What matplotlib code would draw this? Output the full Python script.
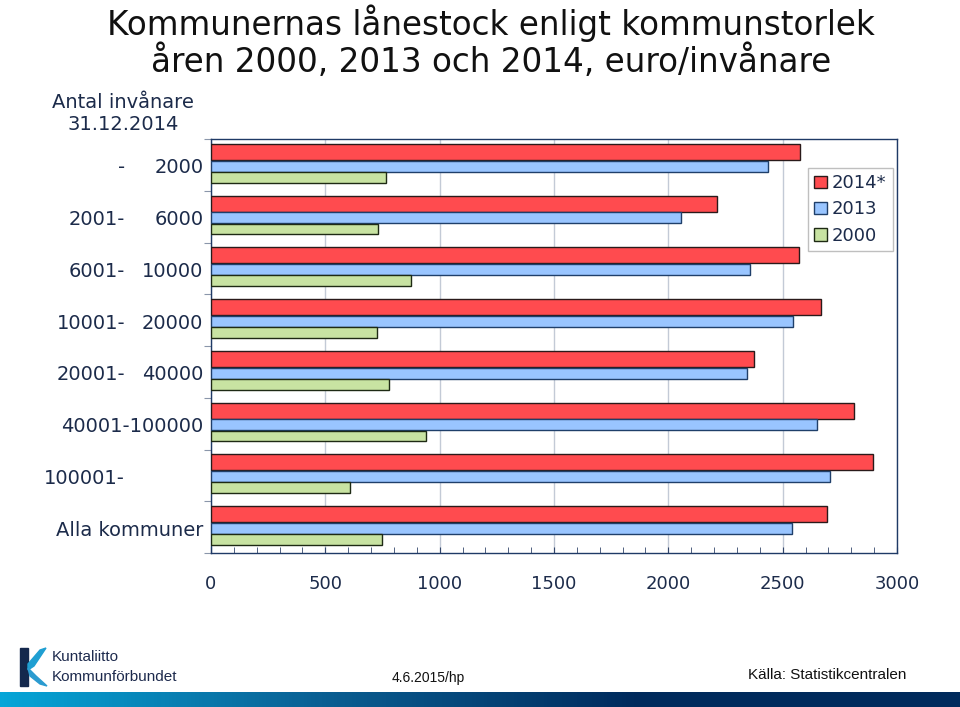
import numpy as np
import matplotlib
matplotlib.use("Agg")
import matplotlib.pyplot as plt
from matplotlib.colors import LinearSegmentedColormap
from matplotlib.patches import Rectangle, Polygon

# Data (euro per inhabitant)
left_txt = ["-", "2001-", "6001-", "10001-", "20001-", "", "100001-", ""]
right_txt = ["2000", "6000", "10000", "20000", "40000", "40001-100000", "", "Alla kommuner"]
v2014 = [2574, 2214, 2570, 2668, 2373, 2813, 2895, 2692]
v2013 = [2435, 2054, 2357, 2545, 2345, 2649, 2706, 2539]
v2000 = [766, 731, 874, 727, 778, 942, 610, 749]
xticks = [0, 500, 1000, 1500, 2000, 2500, 3000]

txt_col = "#1c2b4a"
W, H = 960, 707

fig = plt.figure(figsize=(9.6, 7.07), dpi=100)
ax = fig.add_axes([211 / W, 1 - 553 / H, 686 / W, 414 / H])

idx = np.arange(len(v2014))
ax.barh(idx + 0.25, v2014, height=0.31, color="#ff4b4f", edgecolor="#2a1a1a", linewidth=1, label="2014*", zorder=3)
ax.barh(idx + 0.525, v2013, height=0.21, color="#99c5ff", edgecolor="#1f3f6a", linewidth=1, label="2013", zorder=3)
ax.barh(idx + 0.74, v2000, height=0.21, color="#c8e3a2", edgecolor="#1e2a14", linewidth=1, label="2000", zorder=3)

ax.set_xlim(0, 3000)
ax.set_ylim(8, 0)
ax.set_xticks(xticks)
ax.set_xticklabels([str(t) for t in xticks], fontsize=13, color=txt_col)
ax.set_xticks(np.arange(0, 3001, 100), minor=True)
ax.set_yticks(np.arange(0, 9))
ax.set_yticklabels([])
ax.tick_params(axis="x", which="both", direction="in", length=4, color="#33466b", pad=16)
ax.tick_params(axis="y", direction="out", length=5, color="#8a96aa")
ax.grid(axis="x", color="#c3cad6", linewidth=1, zorder=0)
for s in ax.spines.values():
    s.set_color("#1f3a66")
    s.set_linewidth(1)

# category labels in two columns
for i in idx:
    ax.text(-0.125, i + 0.56, left_txt[i], transform=ax.get_yaxis_transform(),
            ha="right", va="center", fontsize=14, color=txt_col)
    ax.text(-0.011, i + 0.56, right_txt[i], transform=ax.get_yaxis_transform(),
            ha="right", va="center", fontsize=14, color=txt_col)

leg = ax.legend(loc="upper right", bbox_to_anchor=(0.994, 0.93), borderaxespad=0,
                fontsize=13, frameon=True, fancybox=False, handlelength=0.7,
                handleheight=0.7, handletextpad=0.3, labelspacing=0.45,
                borderpad=0.35, labelcolor=txt_col)
leg.get_frame().set_edgecolor("#b0b0b0")
leg.get_frame().set_linewidth(1)

# titles
fig.text(491 / W, 1 - 4 / H, "Kommunernas lånestock enligt kommunstorlek\nåren 2000, 2013 och 2014, euro/invånare",
         ha="center", va="top", fontsize=23.5, color="#111111", linespacing=1.12)
fig.text(123 / W, 1 - 114 / H, "Antal invånare\n31.12.2014", ha="center", va="center",
         fontsize=14, color=txt_col, linespacing=1.2)

# footer
fig.text(392 / W, 1 - 678 / H, "4.6.2015/hp", ha="left", va="center", fontsize=10,
         family="Liberation Sans", color="#111111")
fig.text(748 / W, 1 - 675 / H, "Källa: Statistikcentralen", ha="left", va="center",
         fontsize=11, family="Liberation Sans", color="#111111")
fig.text(52 / W, 1 - 657 / H, "Kuntaliitto", ha="left", va="center", fontsize=11,
         family="Liberation Sans", color="#1d2a4d")
fig.text(52 / W, 1 - 677 / H, "Kommunförbundet", ha="left", va="center", fontsize=11,
         family="Liberation Sans", color="#1d2a4d")

def px(pts):
    return [(x / W, 1 - y / H) for x, y in pts]

fig.add_artist(Rectangle((20 / W, 1 - 686 / H), 8 / W, 38 / H, transform=fig.transFigure,
                         color="#14284d"))
fig.add_artist(Polygon(px([(46, 648), (40, 650), (28, 664), (28, 670), (34, 666)]),
                       closed=True, transform=fig.transFigure, color="#1f9fd2"))
fig.add_artist(Polygon(px([(28, 668), (30, 676), (40, 684), (47, 686), (36, 676)]),
                       closed=True, transform=fig.transFigure, color="#2b9bd0"))

# gradient band at the bottom
gax = fig.add_axes([0, 0, 1, 15 / H])
cmap = LinearSegmentedColormap.from_list("band", ["#06a6d8", "#0a5f93", "#002a5c", "#002a5c"])
gax.imshow(np.linspace(0, 1, 256)[None, :], aspect="auto", cmap=cmap)
gax.axis("off")

fig.savefig("out.png", dpi=100)
